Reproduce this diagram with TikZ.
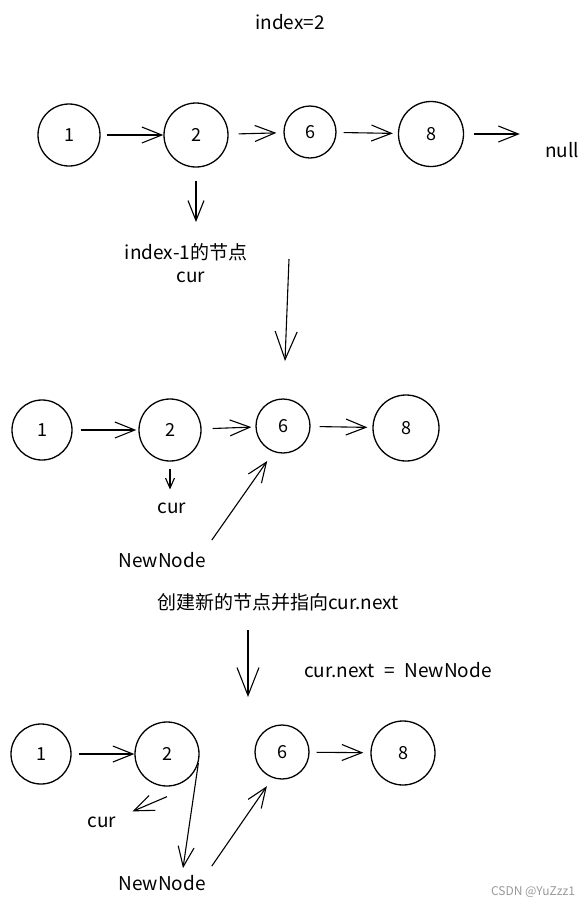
\documentclass[tikz,border=0pt]{standalone}
\usepackage{fontspec}
\setmainfont{Noto Sans CJK SC}
\usetikzlibrary{arrows.meta}
\tikzset{listnode/.style={circle, draw, line width=1.3pt, minimum size=#1,
         inner sep=0pt, font=\fontsize{18}{20}\selectfont},
         listnode/.default={60pt},
         txt/.style={inner sep=2pt, font=\fontsize{19}{22}\selectfont},
         nextarrow/.style={line width=1.1pt, -{Straight Barb[length=20pt,width=16pt]}},
         smallarrow/.style={line width=1.1pt, -{Straight Barb[length=10pt,width=9pt]}},
         steparrow/.style={line width=1.1pt, -{Straight Barb[length=28pt,width=22pt]}}}

\begin{document}
\begin{tikzpicture}[x=1pt,y=-1pt]
        \useasboundingbox (0,0) rectangle (588,906);

        \node[txt] (idx) at (290,22) {index=2};

        % First list
        \node[listnode=62pt] (a1) at (69,135) {1};
        \node[listnode=64pt] (a2) at (196,135) {2};
        \node[listnode=52pt] (a6) at (310,132) {6};
        \node[listnode=65pt] (a8) at (431,134) {8};
        \node[txt] (nul) at (562,150) {null};
        \draw[nextarrow, shorten <=6pt] (a1) -- (a2);
        \draw[nextarrow, shorten <=10pt, shorten >=7pt] (a2) -- (a6);
        \draw[nextarrow, shorten <=7pt, shorten >=5pt] (a6) -- (a8);
        \draw[nextarrow, shorten <=10pt, shorten >=23pt] (a8) -- (nul.west |- a8);

        \node[txt] (prev) at (186,252) {index-1的节点};
        \node[txt] (cura) at (191,277) {cur};
        \draw[nextarrow, shorten <=13pt, shorten >=19pt] (a2.south) -- (a2.south |- prev.north);

        % Step down
        \coordinate (s1a) at (289,259);
        \coordinate (s1b) at (285,361);
        \draw[steparrow] (s1a) -- (s1b);

        % Second list
        \node[listnode=60pt] (b1) at (42,430) {1};
        \node[listnode=62pt] (b2) at (170,430) {2};
        \node[listnode=54pt] (b6) at (283,426) {6};
        \node[listnode=66pt] (b8) at (406,428) {8};
        \draw[nextarrow, shorten <=8pt, shorten >=2pt] (b1) -- (b2);
        \draw[nextarrow, shorten <=11pt, shorten >=4pt] (b2) -- (b6);
        \draw[nextarrow, shorten <=9pt, shorten >=5pt] (b6) -- (b8);

        \node[txt] (curb) at (172,508) {cur};
        \draw[smallarrow, shorten <=7pt, shorten >=11pt] (b2.south) -- (b2.south |- curb.north);
        \node[txt] (newa) at (162,560) {NewNode};
        \draw[nextarrow, shorten >=11pt] ([xshift=4pt,yshift=10pt]newa.north east) -- (b6.250);

        \node[txt] (cap1) at (278,602) {创建新的节点并指向cur.next};

        % Step down
        \coordinate (s2a) at (248,630);
        \coordinate (s2b) at (248,697);
        \draw[steparrow] (s2a) -- (s2b);
        \node[txt] (cap2) at (398,670) {cur.next\enspace=\enspace NewNode};

        % Third list
        \node[listnode=60pt] (c1) at (41,754) {1};
        \node[listnode=64pt] (c2) at (167,754) {2};
        \node[listnode=54pt] (c6) at (282,752) {6};
        \node[listnode=64pt] (c8) at (403,753) {8};
        \draw[nextarrow, shorten <=7pt] (c1) -- (c2);
        \draw[nextarrow, shorten <=7pt, shorten >=7pt] (c6) -- (c8);

        \node[txt] (curc) at (102,822) {cur};
        \node[txt] (newb) at (162,883) {NewNode};
        \draw[nextarrow] ([yshift=-10pt]c2.south) -- ([xshift=14pt,yshift=3pt]curc.north east);
        \draw[nextarrow] (c2.-16) -- ([xshift=21pt,yshift=5pt]newb.north);
        \draw[nextarrow, shorten >=10pt] ([xshift=4pt,yshift=7pt]newb.north east) -- (c6.250);

        \node[font=\fontsize{12}{14}\selectfont, text=black!40] (mark) at (533,892) {CSDN @YuZzz1};
\end{tikzpicture}
\end{document}
